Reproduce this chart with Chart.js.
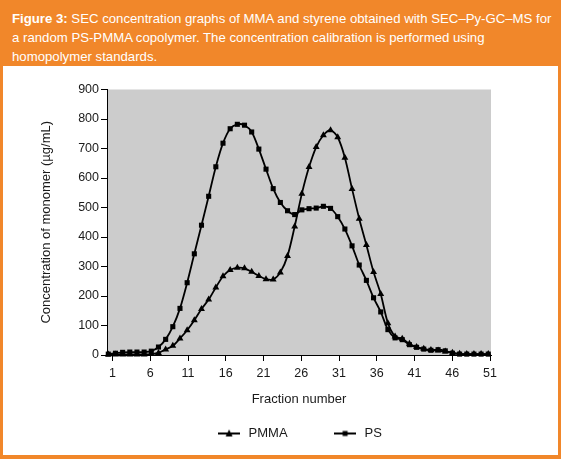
<!DOCTYPE html>
<html lang="en">
<head>
<meta charset="UTF-8">
<title>SEC concentration graphs</title>
<style>
    body{
        margin: 0;
    }
    #frame{
        position: relative;
        width: 561px;
        height: 459px;
        background: #f1872a;
        overflow: hidden;
        font-family: "Liberation Sans", Arial, sans-serif;
    }
    #caption{
        position: absolute;
        left: 12px;
        top: 9px;
        color: #fff;
        font-size: 13.2px;
        line-height: 19px;
        white-space: nowrap;
    }
    #panel{
        position: absolute;
        left: 3px;
        top: 66px;
        width: 555px;
        height: 389px;
        background: #fff;
    }
</style>
</head>
<body>
<div id="frame">
    <div id="caption"><b>Figure 3:</b> SEC concentration graphs of MMA and styrene obtained with SEC–Py-GC–MS for<br>a random PS-PMMA copolymer. The concentration calibration is performed using<br>homopolymer standards.</div>
    <div id="panel"><canvas id="chart" width="555" height="389"></canvas></div>
</div>

<script src="https://cdn.jsdelivr.net/npm/chart.js"></script>
<script>
    const pmmaConc = [2, 2, 2, 2, 2, 2, 3, 7, 19, 31,
                      56, 84, 118, 156, 188, 229, 267, 288, 296, 294,
                      282, 268, 257, 256, 280, 336, 436, 547, 637, 705,
                      745, 762, 738, 669, 563, 462, 373, 281, 207, 108,
                      63, 55, 38, 27, 21, 17, 15, 12, 8, 4,
                      3, 3, 3, 3]
    const psConc = [3, 6, 9, 10, 10, 10, 13, 27, 53, 96,
                    158, 245, 343, 440, 538, 638, 718, 767, 782, 779,
                    756, 698, 630, 564, 517, 489, 476, 492, 496, 498,
                    504, 497, 469, 427, 370, 305, 253, 194, 146, 86,
                    58, 52, 35, 26, 20, 16, 18, 14, 6, 3,
                    3, 3, 3, 3]
    const fractionTicks = [1, 6, 11, 16, 21, 26, 31, 36, 41, 46, 51]
    const yTicks = [0, 100, 200, 300, 400, 500, 600, 700, 800, 900]

    const textColor = '#1a1a1a'
    const fontName = '"Liberation Sans", Arial, sans-serif'

    function toPoints(arr){
        return arr.map((v, i) => ({x: i + 1, y: v}))
    }

    // little "line with marker" pictures for the legend
    function legendMark(kind){
        const c = document.createElement('canvas')
        c.width = 22
        c.height = 10
        const g = c.getContext('2d')
        g.strokeStyle = '#000'
        g.lineWidth = 2
        g.beginPath()
        g.moveTo(0, 5)
        g.lineTo(22, 5)
        g.stroke()
        g.fillStyle = '#000'
        if (kind === 'triangle') {
            g.beginPath()
            g.moveTo(11, 1)
            g.lineTo(14.5, 8)
            g.lineTo(7.5, 8)
            g.closePath()
            g.fill()
        } else {
            g.fillRect(8.5, 2.5, 5, 5)
        }
        return c
    }
    const blankMark = document.createElement('canvas')
    blankMark.width = 1
    blankMark.height = 1

    const plotBackground = {
        id: 'plotBackground',
        beforeDraw(chart){
            const {ctx, chartArea} = chart
            ctx.save()
            ctx.fillStyle = '#cccccc'
            ctx.fillRect(chartArea.left, chartArea.top, chartArea.width, chartArea.height)
            ctx.restore()
        }
    }

    new Chart(document.getElementById('chart'), {
        type: 'line',
        data: {
            datasets: [{
                label: 'PMMA',
                data: toPoints(pmmaConc),
                borderColor: '#000',
                borderWidth: 1.8,
                backgroundColor: '#000',
                pointStyle: 'triangle',
                pointRadius: 4,
                pointBorderWidth: 0,
                tension: 0.3,
                clip: false
            }, {
                label: 'PS',
                data: toPoints(psConc),
                borderColor: '#000',
                borderWidth: 1.8,
                backgroundColor: '#000',
                pointStyle: 'rect',
                pointRadius: 3.6,
                pointBorderWidth: 0,
                tension: 0.3,
                clip: false
            }]
        },
        options: {
            responsive: false,
            animation: false,
            devicePixelRatio: 1,
            layout: {
                padding: {left: 32, right: 67, top: 23.5, bottom: 5}
            },
            scales: {
                x: {
                    type: 'linear',
                    display: false,
                    min: 0.82,
                    max: 54.38
                },
                xf: {
                    type: 'linear',
                    position: 'bottom',
                    min: 0.27,
                    max: 51.13,
                    afterBuildTicks: (scale) => {
                        scale.ticks = fractionTicks.map(v => ({value: v}))
                    },
                    afterFit: (scale) => {
                        scale.height = 66
                    },
                    grid: {
                        drawOnChartArea: false,
                        drawTicks: true,
                        tickLength: 6,
                        color: '#000'
                    },
                    border: {display: true, color: '#000', width: 1},
                    ticks: {
                        autoSkip: false,
                        maxRotation: 0,
                        padding: 5,
                        color: textColor,
                        font: {family: fontName, size: 12.5}
                    },
                    title: {
                        display: true,
                        text: 'Fraction number',
                        color: textColor,
                        font: {family: fontName, size: 13},
                        padding: {top: 0, bottom: 14}
                    }
                },
                y: {
                    min: 0,
                    max: 900,
                    afterBuildTicks: (scale) => {
                        scale.ticks = yTicks.map(v => ({value: v}))
                    },
                    afterFit: (scale) => {
                        scale.width = 72
                    },
                    grid: {
                        drawOnChartArea: false,
                        drawTicks: true,
                        tickLength: 6,
                        color: '#000'
                    },
                    border: {display: true, color: '#000', width: 1},
                    ticks: {
                        padding: 2,
                        color: textColor,
                        font: {family: fontName, size: 12.5}
                    },
                    title: {
                        display: true,
                        text: 'Concentration of monomer (µg/mL)',
                        color: textColor,
                        font: {family: fontName, size: 13},
                        padding: {top: 4, bottom: 0}
                    }
                }
            },
            plugins: {
                tooltip: {enabled: false},
                legend: {
                    position: 'bottom',
                    fullSize: false,
                    labels: {
                        usePointStyle: true,
                        pointStyleWidth: 26,
                        padding: 6,
                        color: textColor,
                        font: {family: fontName, size: 13},
                        generateLabels: () => [
                            {text: 'PMMA', pointStyle: legendMark('triangle'), fontColor: textColor, datasetIndex: 0},
                            {text: '', pointStyle: blankMark, fontColor: textColor},
                            {text: 'PS', pointStyle: legendMark('rect'), fontColor: textColor, datasetIndex: 1}
                        ]
                    }
                }
            }
        },
        plugins: [plotBackground]
    })
</script>
</body>
</html>
